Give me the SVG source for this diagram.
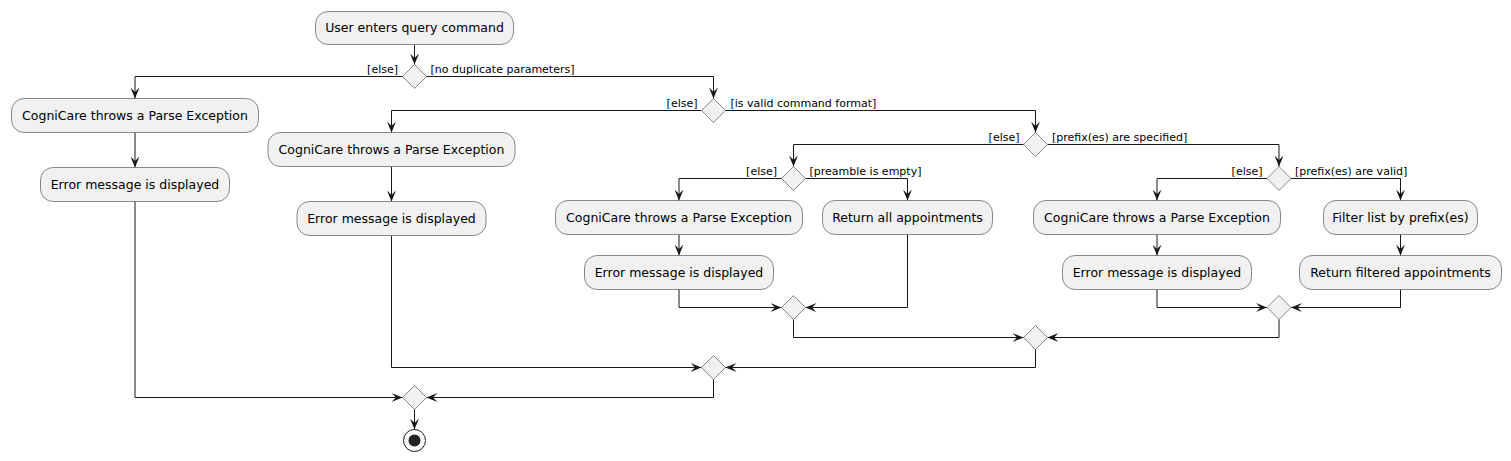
<svg xmlns="http://www.w3.org/2000/svg" width="1511" height="461" viewBox="0 0 1511 461">
<style>
.act{fill:#F1F1F1;stroke:#181818;stroke-width:0.5}
.dia{fill:#F1F1F1;stroke:#181818;stroke-width:0.5}
.t{font-family:"DejaVu Sans",sans-serif;font-size:12.5px;fill:#000;text-anchor:middle}
.l{font-family:"DejaVu Sans",sans-serif;font-size:11px;fill:#000}
.e{text-anchor:end}
.c{fill:none;stroke:#181818;stroke-width:1;marker-end:url(#ah)}
</style>
<defs>
<marker id="ah" markerUnits="userSpaceOnUse" markerWidth="11" markerHeight="9" refX="11" refY="4.5" orient="auto">
<path d="M0,0 L11,4.5 L0,9 L4.5,4.5 Z" fill="#181818"/>
</marker>
</defs>
<rect width="1511" height="461" fill="#FFFFFF"/>
<g id="connectors">
<path class="c" d="M414.5,44.5 V64.5"/>
<path class="c" d="M402.5,76.5 H135 V98.5"/>
<path class="c" d="M135,132.5 V167.5"/>
<path class="c" d="M135,201.5 V397.5 H402.5"/>
<path class="c" d="M426.5,76.5 H713.5 V98.5"/>
<path class="c" d="M701.5,110.5 H391.5 V132.5"/>
<path class="c" d="M391.5,166.5 V201.5"/>
<path class="c" d="M391.5,235.5 V367.5 H701.5"/>
<path class="c" d="M725.5,110.5 H1035.5 V132.5"/>
<path class="c" d="M1023.5,144.5 H793.5 V166.5"/>
<path class="c" d="M781.5,178.5 H679 V200.5"/>
<path class="c" d="M679,234.5 V255.5"/>
<path class="c" d="M679,289.5 V307.5 H781.5"/>
<path class="c" d="M805.5,178.5 H907.5 V200.5"/>
<path class="c" d="M907.5,234.5 V307.5 H805.5"/>
<path class="c" d="M793.5,319.5 V337.5 H1023.5"/>
<path class="c" d="M1047.5,144.5 H1279 V166.5"/>
<path class="c" d="M1267,178.5 H1157 V200.5"/>
<path class="c" d="M1157,234.5 V255.5"/>
<path class="c" d="M1157,289.5 V307.5 H1267"/>
<path class="c" d="M1291,178.5 H1400.5 V200.5"/>
<path class="c" d="M1400.5,234.5 V255.5"/>
<path class="c" d="M1400.5,289.5 V307.5 H1291"/>
<path class="c" d="M1279,319.5 V337.5 H1047.5"/>
<path class="c" d="M1035.5,349.5 V367.5 H725.5"/>
<path class="c" d="M713.5,379.5 V397.5 H426.5"/>
<path class="c" d="M414.5,409.5 V429.5"/>
</g>
<g id="labels">
<text class="l e" x="398" y="73">[else]</text>
<text class="l" x="430.5" y="73">[no duplicate parameters]</text>
<text class="l e" x="697.5" y="107">[else]</text>
<text class="l" x="730.5" y="107">[is valid command format]</text>
<text class="l e" x="1019.5" y="141">[else]</text>
<text class="l" x="1052" y="141">[prefix(es) are specified]</text>
<text class="l e" x="777" y="175">[else]</text>
<text class="l" x="809.5" y="175">[preamble is empty]</text>
<text class="l e" x="1262.5" y="175">[else]</text>
<text class="l" x="1295" y="175">[prefix(es) are valid]</text>
</g>
<g id="start">
<rect class="act" x="315.5" y="11.5" width="198" height="33" rx="12.5"/>
<text class="t" x="414.5" y="32">User enters query command</text>
</g>
<g id="d1"><polygon class="dia" points="402.5,76.5 414.5,64.5 426.5,76.5 414.5,88.5"/></g>
<g id="a1">
<rect class="act" x="11.5" y="98.5" width="247" height="34" rx="12.5"/>
<text class="t" x="135" y="120">CogniCare throws a Parse Exception</text>
</g>
<g id="a2">
<rect class="act" x="40.5" y="167.5" width="189" height="34" rx="12.5"/>
<text class="t" x="135" y="189">Error message is displayed</text>
</g>
<g id="d2"><polygon class="dia" points="701.5,110.5 713.5,98.5 725.5,110.5 713.5,122.5"/></g>
<g id="a3">
<rect class="act" x="268" y="132.5" width="247" height="34" rx="12.5"/>
<text class="t" x="391.5" y="154">CogniCare throws a Parse Exception</text>
</g>
<g id="a4">
<rect class="act" x="297" y="201.5" width="189" height="34" rx="12.5"/>
<text class="t" x="391.5" y="223">Error message is displayed</text>
</g>
<g id="d3"><polygon class="dia" points="1023.5,144.5 1035.5,132.5 1047.5,144.5 1035.5,156.5"/></g>
<g id="d4"><polygon class="dia" points="781.5,178.5 793.5,166.5 805.5,178.5 793.5,190.5"/></g>
<g id="a5">
<rect class="act" x="555.5" y="200.5" width="247" height="34" rx="12.5"/>
<text class="t" x="679" y="222">CogniCare throws a Parse Exception</text>
</g>
<g id="a6">
<rect class="act" x="584.5" y="255.5" width="189" height="34" rx="12.5"/>
<text class="t" x="679" y="277">Error message is displayed</text>
</g>
<g id="a7">
<rect class="act" x="822.5" y="200.5" width="170" height="34" rx="12.5"/>
<text class="t" x="907.5" y="222">Return all appointments</text>
</g>
<g id="m4"><polygon class="dia" points="781.5,307.5 793.5,295.5 805.5,307.5 793.5,319.5"/></g>
<g id="d5"><polygon class="dia" points="1267,178.5 1279,166.5 1291,178.5 1279,190.5"/></g>
<g id="a8">
<rect class="act" x="1033.5" y="200.5" width="247" height="34" rx="12.5"/>
<text class="t" x="1157" y="222">CogniCare throws a Parse Exception</text>
</g>
<g id="a9">
<rect class="act" x="1062.5" y="255.5" width="189" height="34" rx="12.5"/>
<text class="t" x="1157" y="277">Error message is displayed</text>
</g>
<g id="a10">
<rect class="act" x="1323.5" y="200.5" width="154" height="34" rx="12.5"/>
<text class="t" x="1400.5" y="222">Filter list by prefix(es)</text>
</g>
<g id="a11">
<rect class="act" x="1299.5" y="255.5" width="202" height="34" rx="12.5"/>
<text class="t" x="1400.5" y="277">Return filtered appointments</text>
</g>
<g id="m5"><polygon class="dia" points="1267,307.5 1279,295.5 1291,307.5 1279,319.5"/></g>
<g id="m3"><polygon class="dia" points="1023.5,337.5 1035.5,325.5 1047.5,337.5 1035.5,349.5"/></g>
<g id="m2"><polygon class="dia" points="701.5,367.5 713.5,355.5 725.5,367.5 713.5,379.5"/></g>
<g id="m1"><polygon class="dia" points="402.5,397.5 414.5,385.5 426.5,397.5 414.5,409.5"/></g>
<g id="end">
<circle cx="414.5" cy="440.5" r="11" fill="none" stroke="#181818" stroke-width="1"/>
<circle cx="414.5" cy="440.5" r="6" fill="#222222"/>
</g>
</svg>
